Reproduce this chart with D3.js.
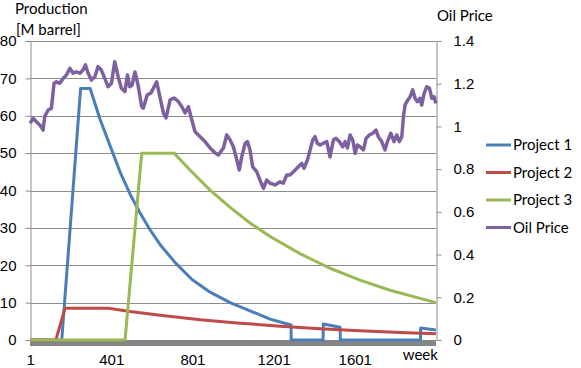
<!DOCTYPE html>
<html>
<head>
<meta charset="utf-8">
<script src="https://cdn.jsdelivr.net/npm/d3@7"></script>
<style>
  html, body { margin: 0; padding: 0; background: #fff; }
  svg { display: block; font-family: "Lato", "Open Sans", sans-serif; }
  .tick text { font-size: 15px; fill: #000; }
</style>
</head>
<body>
<svg id="chart" width="581" height="368"></svg>
<script>
// ---------------- data ----------------
const leftTicks = [0, 10, 20, 30, 40, 50, 60, 70, 80];
const rightTicks = [0, 0.2, 0.4, 0.6, 0.8, 1.0, 1.2, 1.4];
const xTicks = [1, 401, 801, 1201, 1601];
const seriesNames = ["Project 1", "Project 2", "Project 3", "Oil Price"];
const seriesColors = ["#4A7EBB", "#BE4B48", "#98B954", "#7D60A0"];

const p1Weeks = [1,157,250,297,346,395,444,494,543,592,642,716,799,888,987,1085,1184,1287,1288,1445,1446,1529,1530,1925,1926,2001];
const p1Values = [0,0,67.3,67.3,59,52,45,39,34,29.5,25.5,20.7,16.2,12.8,10.0,7.8,5.6,4.0,0,0,4.3,3.4,0,0,3.2,2.7];

const p2Weeks = [1,128,173,387,494,642,839,1036,1233,1430,1627,1824,2001];
const p2Values = [0,0,8.5,8.5,7.6,6.6,5.4,4.5,3.7,3.0,2.5,2.0,1.7];

const p3Weeks = [1,469,551,711,789,888,987,1085,1184,1331,1479,1627,1775,2001];
const p3Values = [0,0,50,50,45.5,40.1,35.5,31.3,27.7,23.1,19.2,16.0,13.3,10.0];

const oilWeeks = [1,16,32,49,59,65,73,90,106,119,
  131,147,164,180,197,213,229,246,262,274,
  287,303,320,336,352,369,385,402,418,435,
  451,468,481,492,504,518,533,551,559,578,
  597,625,642,658,671,691,711,732,749,765,
  781,798,814,839,863,888,913,929,954,970,
  987,1003,1020,1032,1044,1061,1072,1085,1098,1118,
  1134,1151,1167,1184,1208,1233,1249,1266,1282,1299,
  1323,1340,1351,1368,1381,1394,1405,1417,1430,1446,
  1463,1479,1496,1509,1525,1542,1553,1565,1578,1591,
  1603,1614,1627,1644,1657,1673,1690,1706,1717,1734,
  1750,1762,1779,1795,1808,1821,1833,1841,1849,1857,
  1874,1887,1898,1910,1923,1931,1943,1956,1969,1981,
  1992,2001];
const oilPrice = [1.015,1.038,1.022,1.007,0.993,0.983,1.046,1.077,1.085,1.202,
  1.209,1.202,1.225,1.241,1.272,1.249,1.256,1.249,1.264,1.288,
  1.249,1.217,1.233,1.280,1.264,1.225,1.186,1.202,1.303,1.233,
  1.179,1.163,1.241,1.186,1.194,1.255,1.194,1.092,1.086,1.147,
  1.157,1.209,1.133,1.063,1.040,1.124,1.133,1.116,1.092,1.063,
  1.092,1.030,0.975,0.952,0.929,0.899,0.876,0.866,0.899,0.960,
  0.937,0.904,0.843,0.796,0.858,0.921,0.929,0.890,0.811,0.788,
  0.749,0.710,0.749,0.734,0.726,0.741,0.734,0.773,0.773,0.788,
  0.811,0.827,0.804,0.843,0.890,0.937,0.952,0.921,0.913,0.921,
  0.929,0.857,0.937,0.944,0.929,0.905,0.929,0.899,0.960,0.937,
  0.874,0.913,0.905,0.890,0.944,0.960,0.968,0.983,0.952,0.929,
  0.890,0.929,0.968,0.929,0.960,0.929,0.952,1.046,1.100,1.116,
  1.139,1.171,1.132,1.116,1.132,1.100,1.155,1.186,1.179,1.132,
  1.139,1.108];

// ---------------- layout ----------------
const svg = d3.select("#chart");
const plot = { left: 30, right: 436, top: 41, bottom: 340 };
const nWeeks = 2001;

const x = d3.scaleLinear().domain([0.5, nWeeks + 0.5]).range([plot.left, plot.right]);
const yL = d3.scaleLinear().domain([0, 80]).range([plot.bottom, plot.top]);
const yR = d3.scaleLinear().domain([0, 1.4]).range([plot.bottom, plot.top]);

const gridColor = "#8c8c8c";

// gridlines
svg.append("g").selectAll("line").data(leftTicks).join("line")
  .attr("x1", plot.left).attr("x2", plot.right)
  .attr("y1", d => Math.round(yL(d)) + 0.5).attr("y2", d => Math.round(yL(d)) + 0.5)
  .attr("stroke", gridColor).attr("stroke-width", 1);

// category tick band under the axis
svg.append("rect")
  .attr("x", x(0.5)).attr("width", x(nWeeks + 0.5) - x(0.5))
  .attr("y", yL(0)).attr("height", 6)
  .attr("fill", "#858585");

// left axis
const gL = svg.append("g").attr("transform", `translate(${plot.left + 0.5},0)`)
  .call(d3.axisLeft(yL).tickValues(leftTicks).tickSize(5).tickPadding(9).tickFormat(d3.format("d")));
gL.select(".domain").attr("stroke", gridColor);
gL.selectAll(".tick line").attr("stroke", gridColor);

// right axis
const gR = svg.append("g").attr("transform", `translate(${plot.right + 0.5},0)`)
  .call(d3.axisRight(yR).tickValues(rightTicks).tickSize(5).tickPadding(12).tickFormat(d => d3.format("~g")(d)));
gR.select(".domain").attr("stroke", gridColor);
gR.selectAll(".tick line").attr("stroke", gridColor);

// bottom axis (labels only)
const gB = svg.append("g").attr("transform", `translate(0,${plot.bottom})`)
  .call(d3.axisBottom(x).tickValues(xTicks).tickSize(0).tickPadding(14).tickFormat(d3.format("d")));
gB.select(".domain").remove();

svg.append("text").attr("x", x(nWeeks) + 2).attr("y", 360)
  .attr("text-anchor", "end").attr("font-size", 15).text("week");

// titles
svg.append("text").attr("x", 15).attr("y", 14).attr("font-size", 15).text("Production");
svg.append("text").attr("x", 16).attr("y", 34.5).attr("font-size", 15).text("[M barrel]");
svg.append("text").attr("x", 437).attr("y", 20.5).attr("font-size", 15).text("Oil Price");

// series
const lineL = d3.line().x(d => x(d[0])).y(d => yL(d[1]));
const lineR = d3.line().x(d => x(d[0])).y(d => yR(d[1]));
const series = [
  { w: p1Weeks, v: p1Values, gen: lineL, sw: 3 },
  { w: p2Weeks, v: p2Values, gen: lineL, sw: 3 },
  { w: p3Weeks, v: p3Values, gen: lineL, sw: 3 },
  { w: oilWeeks, v: oilPrice, gen: lineR, sw: 3.5 }
];
series.forEach((s, i) => {
  svg.append("path")
    .attr("d", s.gen(s.w.map((w, j) => [w, s.v[j]])))
    .attr("fill", "none")
    .attr("stroke", seriesColors[i])
    .attr("stroke-width", s.sw)
    .attr("stroke-linejoin", "round");
});

// legend
const leg = svg.append("g").attr("transform", "translate(486,145)");
seriesNames.forEach((name, i) => {
  const g = leg.append("g").attr("transform", `translate(0,${i * 27.5})`);
  g.append("line").attr("x1", 0).attr("x2", 25).attr("y1", 0).attr("y2", 0)
    .attr("stroke", seriesColors[i]).attr("stroke-width", 3);
  g.append("text").attr("x", 27).attr("y", 0).attr("dy", "0.35em")
    .attr("font-size", 15).text(name);
});
</script>
</body>
</html>
